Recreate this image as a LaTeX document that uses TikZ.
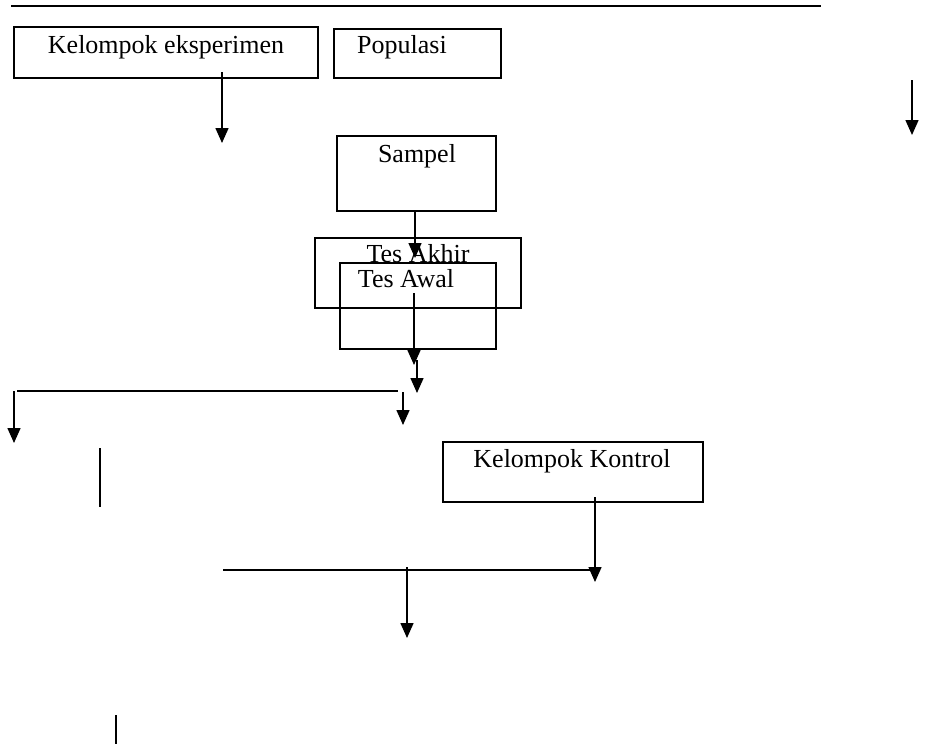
\documentclass[tikz,border=0pt]{standalone}
\usepackage{fontspec}
\setmainfont{Liberation Serif}
\usetikzlibrary{arrows.meta}
\begin{document}
\begin{tikzpicture}[x=1pt,y=-1pt,
	box/.style={draw,line width=1.6pt,inner sep=0pt},
	lbl/.style={anchor=base,inner sep=0pt,font=\fontsize{26}{30}\selectfont},
	arr/.style={line width=1.5pt,-{Triangle[length=15pt,width=13pt]}},
	ln/.style={line width=1.5pt}]
		\useasboundingbox (0,0) rectangle (925,744);
		%top rule
		\draw[line width=2.2pt] (11,6) -- (821,6);
		
		%boxes
		\node[box,minimum width=304pt,minimum height=51pt] (eks) at (166,52.5){};
		\node[lbl] (eksT) at (166,53){Kelompok eksperimen};
		\node[box,minimum width=167pt,minimum height=49pt] (pop) at (417.5,53.5){};
		\node[lbl] (popT) at (402,53){Populasi};
		\node[box,minimum width=159pt,minimum height=75pt] (sam) at (416.5,173.5){};
		\node[lbl] (samT) at (417,162){Sampel};
		\node[box,minimum width=206pt,minimum height=70pt] (akhir) at (418,273){};
		\node[lbl] (akhirT) at (418,262){Tes Akhir};
		\node[box,minimum width=156pt,minimum height=86pt] (awal) at (418,306){};
		\node[lbl] (awalT) at (406,287){Tes Awal};
		\node[box,minimum width=260pt,minimum height=60pt] (kon) at (573,472){};
		\node[lbl] (konT) at (572,467){Kelompok Kontrol};
		
		%free ends
		\coordinate (e1) at (222,72);   \coordinate (e2) at (222,143);
		\coordinate (s2) at (415,258);
		\coordinate (w1) at (414,293);  \coordinate (w2) at (414,365);
		\coordinate (w3) at (417,360);  \coordinate (w4) at (417,393);
		\coordinate (h1) at (17,391);   \coordinate (h2) at (398,391);
		\coordinate (l1) at (14,391);   \coordinate (l2) at (14,443);
		\coordinate (r1) at (403,392);  \coordinate (r2) at (403,425);
		\coordinate (v1) at (100,448);  \coordinate (v2) at (100,507);
		\coordinate (k1) at (595,497);  \coordinate (k2) at (595,582);
		\coordinate (g1) at (223,570);  \coordinate (g2) at (595,570);
		\coordinate (d1) at (407,567);  \coordinate (d2) at (407,638);
		\coordinate (t1) at (912,80);   \coordinate (t2) at (912,135);
		\coordinate (b1) at (116,715);  \coordinate (b2) at (116,744);
		
		%arrows
		\draw[arr] (e1) -- (e2);
		\draw[arr] (sam.south -| s2) -- (s2);
		\draw[arr] (w1) -- (w2);
		\draw[arr] (w3) -- (w4);
		\draw[arr] (l1) -- (l2);
		\draw[arr] (r1) -- (r2);
		\draw[arr] (k1) -- (k2);
		\draw[arr] (d1) -- (d2);
		\draw[arr] (t1) -- (t2);
		
		%plain lines
		\draw[ln] (h1) -- (h2);
		\draw[ln] (v1) -- (v2);
		\draw[ln] (g1) -- (g2);
		\draw[ln] (b1) -- (b2);
\end{tikzpicture}
\end{document}
